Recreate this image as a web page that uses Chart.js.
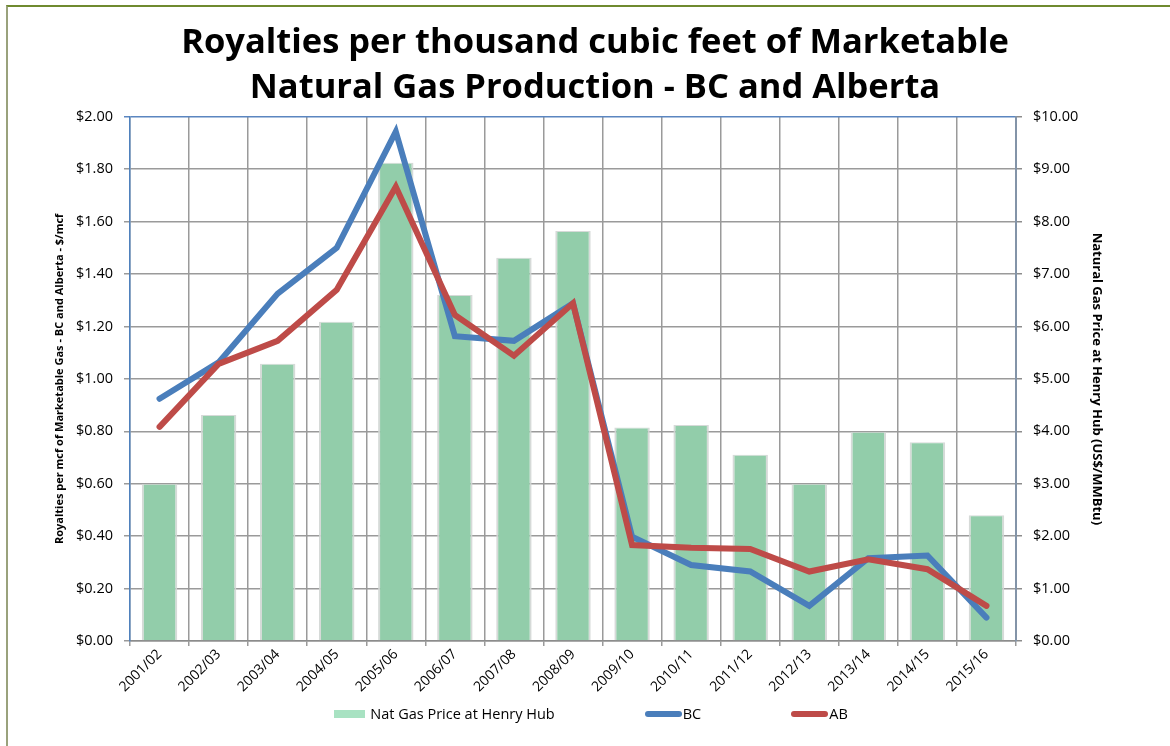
<!DOCTYPE html>
<html><head><meta charset="utf-8">
<script src="https://cdn.jsdelivr.net/npm/chart.js@4.4.0/dist/chart.umd.min.js"></script>
<style>
html,body{margin:0;padding:0;background:#fff;}
#wrap{position:relative;width:1170px;height:746px;overflow:hidden;background:#fff;}
#c{position:absolute;left:0;top:0;}
#frame{position:absolute;left:6px;top:5px;width:1300px;height:900px;border-left:2px solid #9aa27c;border-top:2px solid #6f8a2f;pointer-events:none;}
#legend{position:absolute;left:0;width:1182px;top:704px;display:flex;justify-content:center;gap:90px;font-family:"Open Sans",sans-serif;font-size:14.5px;color:#000;}
#legend .item{display:flex;align-items:center;white-space:nowrap;}
#legend .sw{display:inline-block;margin-right:5px;}
</style></head><body>
<div id="wrap"><canvas id="c" width="1170" height="746"></canvas><div id="frame"></div><div id="legend"></div></div>
<script>
const categories = ["2001/02","2002/03","2003/04","2004/05","2005/06","2006/07","2007/08","2008/09","2009/10","2010/11","2011/12","2012/13","2013/14","2014/15","2015/16"];
const henryHubPrice = [3.00, 4.31, 5.29, 6.09, 9.12, 6.60, 7.31, 7.82, 4.07, 4.12, 3.55, 3.00, 3.99, 3.79, 2.40];
const bcRoyalty = [0.924, 1.063, 1.325, 1.500, 1.943, 1.163, 1.145, 1.288, 0.398, 0.290, 0.265, 0.134, 0.316, 0.326, 0.089];
const abRoyalty = [0.817, 1.057, 1.145, 1.340, 1.733, 1.244, 1.088, 1.288, 0.366, 0.356, 0.351, 0.265, 0.312, 0.274, 0.134];
const leftTitle = "Royalties per mcf of Marketable Gas - BC and Alberta - $/mcf";
const rightTitle = "Natural Gas Price at Henry Hub (US$/MMBtu)";
const chartTitle = ["Royalties per thousand cubic feet of Marketable", "Natural Gas Production - BC and Alberta"];

const FONT = '"Open Sans", sans-serif';
const GRID = '#9a9a9a';

const chart = new Chart(document.getElementById('c'), {
  type: 'bar',
  data: {
    labels: categories,
    datasets: [
      {type:'bar', label:'Nat Gas Price at Henry Hub', data: henryHubPrice, yAxisID:'y1',
       backgroundColor:'rgb(146,205,170)', borderColor:'rgba(210,214,212,0.9)', borderWidth:{left:2,right:2,top:1,bottom:0},
       barPercentage:0.6, categoryPercentage:1.0, order:3, legendColor:'#a8e2c2'},
      {type:'line', label:'BC', data: bcRoyalty, yAxisID:'y', borderColor:'#4a7ebb', backgroundColor:'#4a7ebb',
       borderWidth:6, pointRadius:0, pointHoverRadius:0, tension:0, borderCapStyle:'round', borderJoinStyle:'miter', order:2},
      {type:'line', label:'AB', data: abRoyalty, yAxisID:'y', borderColor:'#be4b48', backgroundColor:'#be4b48',
       borderWidth:6, pointRadius:0, pointHoverRadius:0, tension:0, borderCapStyle:'round', borderJoinStyle:'miter', order:1}
    ]
  },
  options: {
    responsive:false, animation:false,
    layout:{padding:{left:20,right:0,top:0,bottom:45}},
    plugins:{
      legend:{display:false},
      tooltip:{enabled:false},
      title:{display:true, text: chartTitle, color:'#000',
        font:{family:FONT, size:34.5, weight:'bold', lineHeight:1.3}, padding:{top:21,bottom:6}}
    },
    scales:{
      x:{
        grid:{color:GRID, lineWidth:1.5, offset:true, tickLength:5},
        border:{color:'#8c8c8c', width:1.5},
        ticks:{color:'#000', font:{family:FONT, size:14}, minRotation:45, maxRotation:45, padding:0},
        afterFit(s){ s.height = 60; }
      },
      y:{
        position:'left', min:0, max:2,
        grid:{color:(c)=> (c.tick && c.tick.value===2) ? '#5b86c0' : GRID, lineWidth:1.5, tickLength:6},
        border:{color:'#4f81bd', width:1.5},
        ticks:{stepSize:0.2, color:'#000', font:{family:FONT, size:14.5}, padding:11,
          callback:(v)=> '$' + Number(v).toFixed(2)},
        title:{display:true, text:leftTitle, color:'#000', font:{family:FONT, size:11, weight:'bold'}, padding:{top:33,bottom:0}},
        afterFit(s){ s.width = 110; }
      },
      y1:{
        position:'right', min:0, max:10,
        grid:{drawOnChartArea:false, color:'#8c8c8c', lineWidth:1.5, tickLength:6},
        border:{color:'#8394a8', width:2},
        ticks:{stepSize:1, color:'#000', font:{family:FONT, size:14.5}, padding:11,
          callback:(v)=> '$' + Number(v).toFixed(2)},
        title:{display:true, text:rightTitle, color:'#000', font:{family:FONT, size:13, weight:'bold'}, padding:{top:65,bottom:0}},
        afterFit(s){ s.width = 154; }
      }
    }
  }
});

// HTML legend built from the chart's datasets
const leg = document.getElementById('legend');
chart.data.datasets.forEach(ds => {
  const item = document.createElement('span'); item.className = 'item';
  const sw = document.createElement('span'); sw.className = 'sw';
  if (ds.type === 'bar') {
    sw.style.width = '31px'; sw.style.height = '8px'; sw.style.background = ds.legendColor;
  } else {
    sw.style.width = '37px'; sw.style.height = '6px'; sw.style.background = ds.borderColor; sw.style.borderRadius = '3px'; sw.style.marginRight='1px';
  }
  item.appendChild(sw);
  const t = document.createElement('span'); t.textContent = ds.label;
  item.appendChild(t);
  leg.appendChild(item);
});
</script>
</body></html>
